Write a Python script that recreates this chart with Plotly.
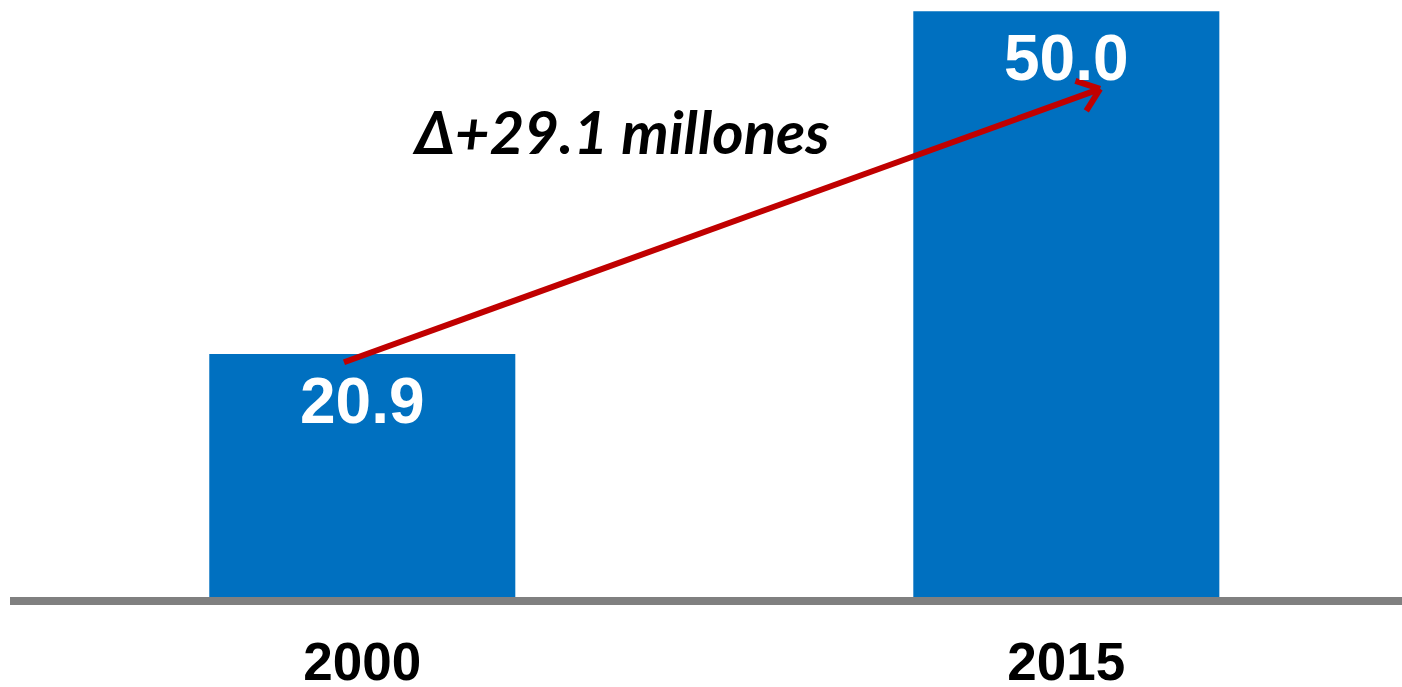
import math
import plotly.graph_objects as go

years = ["2000", "2015"]
values = [20.9, 50.0]
value_labels = ["20.9", "50.0"]
delta_text = "Δ+29.1 millones"

# arrow endpoints (category index, value units)
arrow_start = (-0.026, 20.19)
arrow_end = (1.048, 43.41)

W, H = 1402, 687
ml, mr, mt, mb = 10, 0, 0, 87
xr = [-0.5004, 1.4768]
yr = [0, 50.96]

BLUE = "#0070C0"
RED = "#C00000"
GRAY = "#808080"

fig = go.Figure()
fig.add_trace(go.Bar(
    x=years, y=values, marker=dict(color=BLUE, line=dict(width=0)),
    width=0.4347, hoverinfo="skip",
))

for i, (v, lab) in enumerate(zip(values, value_labels)):
    fig.add_annotation(
        x=i, y=v, xref="x", yref="y", text=f"<b>{lab}</b>", showarrow=False,
        yanchor="top", yshift=-9,
        font=dict(family="Liberation Sans, Arial", size=64, color="white"),
    )

pw = W - ml - mr
ph = H - mt - mb

# baseline (category axis line), drawn over the bars, not clipped
fig.add_shape(type="line", xref="paper", yref="paper", x0=0, x1=1,
              y0=-1.0 / ph, y1=-1.0 / ph,
              line=dict(color=GRAY, width=8), layer="above")

# arrow shaft
fig.add_shape(type="line", x0=arrow_start[0], y0=arrow_start[1],
              x1=arrow_end[0], y1=arrow_end[1], xref="x", yref="y",
              line=dict(color=RED, width=6))

# arrow head wings (pixel-sized, anchored at tip)
pxx = pw / (xr[1] - xr[0])
pxy = ph / (yr[1] - yr[0])
dxp = (arrow_end[0] - arrow_start[0]) * pxx
dyp = (arrow_end[1] - arrow_start[1]) * pxy
theta = math.atan2(-dyp, -dxp)
L = 26
for s in (1, -1):
    a = theta + s * math.radians(38)
    fig.add_shape(type="line", xref="x", yref="y",
                  xsizemode="pixel", ysizemode="pixel",
                  xanchor=arrow_end[0], yanchor=arrow_end[1],
                  x0=0, y0=0, x1=L * math.cos(a), y1=L * math.sin(a),
                  line=dict(color=RED, width=6))

fig.add_annotation(
    x=0.367, y=39.87, xref="x", yref="y", text=f"<b><i>{delta_text}</i></b>",
    showarrow=False, xanchor="center", yanchor="middle",
    font=dict(family="Lato", size=60, color="black"),
)

fig.update_layout(
    width=W, height=H,
    margin=dict(l=ml, r=mr, t=mt, b=mb, autoexpand=False),
    plot_bgcolor="white", paper_bgcolor="white",
    showlegend=False,
    xaxis=dict(
        type="category", range=xr, showgrid=False, zeroline=False,
        showline=False, ticks="",
        ticklabelstandoff=26, automargin=False,
        tickfont=dict(family="Liberation Sans, Arial", size=53, color="black", weight="bold"),
        fixedrange=True,
    ),
    yaxis=dict(range=yr, visible=False, fixedrange=True, automargin=False),
)

fig.write_html(
    "out.html", config={"displayModeBar": False},
    post_script="document.body.style.margin='0';document.body.style.overflow='hidden';",
)
